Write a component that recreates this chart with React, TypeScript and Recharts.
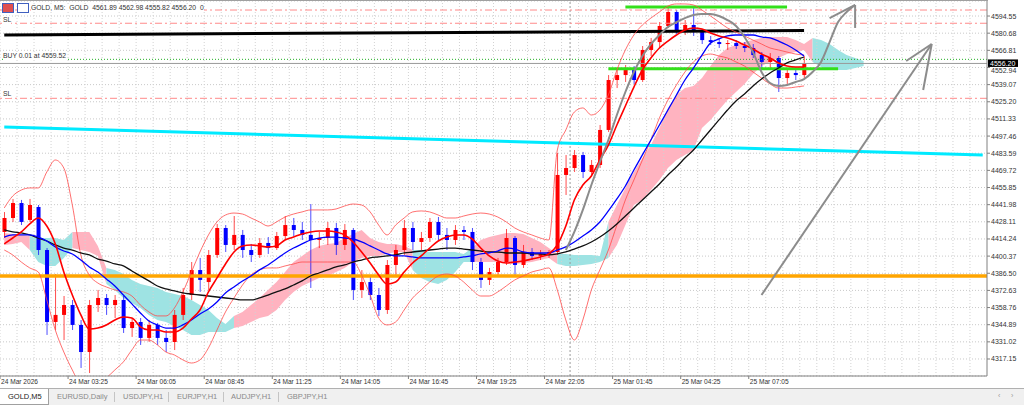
import {
  ComposedChart,
  Bar,
  Line,
  Area,
  XAxis,
  YAxis,
  CartesianGrid,
  ReferenceLine,
} from "recharts";

// x axis: one slot ~ 20 minutes of M5 bars
const timeLabels = [
  "24 Mar 2026", "24 Mar 03:25", "24 Mar 06:05", "24 Mar 08:45", "24 Mar 11:25", "24 Mar 14:05",
  "24 Mar 16:45", "24 Mar 19:25", "24 Mar 22:05", "25 Mar 01:45", "25 Mar 04:25", "25 Mar 07:05",
];

const priceTicks = [
  4594.55, 4580.68, 4566.81, 4552.94, 4539.07, 4525.2, 4511.33, 4497.46, 4483.59, 4469.72, 4455.85,
  4441.98, 4428.11, 4414.24, 4400.37, 4386.5, 4372.63, 4358.76, 4344.89, 4331.02, 4317.15,
];

const openPrices = [
  4419.9, 4431.2, 4443.3, 4429.6, 4440.1, 4405.3, 4347.1, 4352.8, 4360.8, 4344.7,
  4322.8, 4360.8, 4366.5, 4360.8, 4364.9, 4342.2, 4347.1, 4334.2, 4344.7, 4334.2,
  4330.9, 4352.8, 4368.9, 4389.1, 4379.4, 4401.3, 4423.1, 4409.4, 4417.5, 4405.3,
  4401.3, 4411.0, 4406.9, 4416.6, 4425.5, 4421.5, 4417.5, 4413.4, 4415.0, 4423.1,
  4409.4, 4421.5, 4373.0, 4379.4, 4368.9, 4356.8, 4393.2, 4405.3, 4423.1, 4411.8,
  4415.0, 4428.0, 4417.5, 4413.4, 4421.5, 4419.9, 4395.6, 4381.1, 4387.5, 4395.6,
  4415.0, 4393.2, 4403.7, 4400.5, 4402.1, 4403.7, 4466.0, 4471.6, 4482.1, 4468.4,
  4474.1, 4502.4, 4542.8, 4546.8, 4550.9, 4542.8, 4567.1, 4573.5, 4586.5, 4597.8,
  4583.2, 4587.3, 4581.6, 4575.1, 4573.5, 4571.9, 4572.7, 4570.3, 4568.7, 4563.0,
  4557.4, 4560.6, 4544.4, 4548.5, 4546.8,
];
const highPrices = [
  4436.0, 4446.6, 4445.8, 4446.6, 4441.7, 4406.9, 4385.9, 4368.1, 4364.9, 4348.7,
  4364.9, 4373.0, 4369.7, 4368.9, 4368.1, 4350.3, 4350.3, 4348.7, 4346.3, 4340.6,
  4356.8, 4374.6, 4395.6, 4398.9, 4405.3, 4426.3, 4425.5, 4432.8, 4421.5, 4410.2,
  4415.0, 4415.8, 4419.9, 4432.8, 4431.2, 4428.0, 4442.5, 4419.9, 4428.0, 4427.2,
  4426.3, 4423.1, 4389.1, 4384.3, 4374.6, 4397.2, 4409.4, 4429.6, 4428.0, 4419.9,
  4431.2, 4432.0, 4423.1, 4425.5, 4424.7, 4423.1, 4398.9, 4390.8, 4398.9, 4422.3,
  4416.6, 4409.4, 4406.9, 4405.3, 4405.3, 4483.8, 4482.1, 4486.2, 4484.6, 4478.1,
  4506.4, 4546.8, 4550.9, 4554.9, 4554.1, 4570.3, 4576.8, 4589.7, 4601.0, 4599.4,
  4591.3, 4601.0, 4584.0, 4578.4, 4576.8, 4575.1, 4575.1, 4573.5, 4571.9, 4565.4,
  4564.6, 4562.2, 4552.5, 4550.9, 4562.2,
];
const lowPrices = [
  4415.0, 4428.0, 4425.5, 4428.0, 4401.3, 4336.6, 4340.6, 4332.5, 4340.6, 4309.9,
  4305.8, 4355.2, 4352.8, 4350.3, 4338.2, 4335.0, 4328.5, 4330.9, 4328.5, 4322.8,
  4324.4, 4348.7, 4364.9, 4371.4, 4373.0, 4398.9, 4403.7, 4405.3, 4398.9, 4395.6,
  4398.9, 4402.1, 4405.3, 4413.4, 4416.6, 4413.4, 4374.6, 4406.9, 4409.4, 4401.3,
  4405.3, 4364.9, 4366.5, 4364.9, 4351.9, 4353.6, 4385.1, 4401.3, 4405.3, 4405.3,
  4411.8, 4413.4, 4405.3, 4409.4, 4413.4, 4389.1, 4374.6, 4377.0, 4384.3, 4393.2,
  4385.1, 4390.8, 4397.2, 4397.2, 4398.9, 4401.3, 4449.8, 4468.4, 4463.5, 4466.0,
  4471.6, 4500.7, 4536.3, 4541.2, 4539.6, 4541.2, 4562.2, 4568.7, 4584.8, 4580.0,
  4579.2, 4578.4, 4571.9, 4571.1, 4568.7, 4567.1, 4567.9, 4565.4, 4560.6, 4552.5,
  4550.9, 4533.1, 4539.6, 4542.8, 4544.4,
];
const closePrices = [
  4431.2, 4443.3, 4428.0, 4441.7, 4405.3, 4347.1, 4352.8, 4360.8, 4344.7, 4322.8,
  4360.8, 4366.5, 4360.8, 4364.9, 4342.2, 4347.1, 4334.2, 4344.7, 4334.2, 4330.9,
  4352.8, 4368.9, 4389.1, 4381.1, 4401.3, 4423.1, 4409.4, 4417.5, 4405.3, 4401.3,
  4411.0, 4406.9, 4416.6, 4425.5, 4421.5, 4417.5, 4413.4, 4415.0, 4423.1, 4409.4,
  4421.5, 4373.0, 4379.4, 4368.9, 4356.8, 4393.2, 4405.3, 4423.1, 4411.8, 4415.0,
  4428.0, 4417.5, 4413.4, 4421.5, 4419.9, 4395.6, 4381.1, 4387.5, 4395.6, 4415.0,
  4393.2, 4403.7, 4400.5, 4402.1, 4403.7, 4466.0, 4471.6, 4482.1, 4468.4, 4474.1,
  4502.4, 4542.8, 4546.8, 4550.9, 4542.8, 4567.1, 4573.5, 4586.5, 4597.8, 4583.2,
  4587.3, 4581.6, 4575.1, 4573.5, 4571.9, 4572.7, 4570.3, 4568.7, 4563.0, 4557.4,
  4560.6, 4544.4, 4548.5, 4546.8, 4556.2,
];

const maFast = [
  4410.2, 4415.0, 4419.9, 4426.4, 4431.2, 4424.7, 4410.2, 4387.5, 4368.9, 4352.8,
  4341.4, 4342.2, 4344.7, 4348.7, 4351.1, 4350.3, 4343.1, 4340.6, 4340.6, 4339.0,
  4339.0, 4342.2, 4349.5, 4356.8, 4371.4, 4382.7, 4394.0, 4403.7, 4408.6, 4409.4,
  4408.6, 4407.8, 4408.6, 4413.4, 4415.8, 4418.3, 4419.9, 4420.7, 4420.7, 4419.9,
  4417.5, 4411.8, 4403.7, 4394.8, 4385.1, 4377.8, 4379.4, 4387.5, 4394.8, 4400.5,
  4406.9, 4412.6, 4415.8, 4417.5, 4417.5, 4414.2, 4406.9, 4400.5, 4396.4, 4394.8,
  4395.6, 4396.4, 4398.0, 4399.7, 4402.1, 4409.4, 4424.7, 4445.8, 4457.9, 4465.2,
  4478.1, 4490.2, 4506.4, 4521.8, 4537.1, 4550.9, 4560.6, 4568.7, 4574.3, 4579.2,
  4583.2, 4584.9, 4584.0, 4580.8, 4578.4, 4576.8, 4574.3, 4571.1, 4567.9, 4563.8,
  4560.6, 4556.6, 4554.1, 4553.3, 4553.3,
];
const maMid = [
  4415.8, 4417.5, 4417.5, 4417.5, 4415.8, 4412.6, 4407.8, 4404.5, 4402.1, 4397.2,
  4391.6, 4387.5, 4381.9, 4376.2, 4368.9, 4361.7, 4354.4, 4347.9, 4344.7, 4342.2,
  4342.2, 4344.7, 4348.7, 4353.6, 4357.6, 4363.3, 4370.6, 4375.4, 4380.3, 4384.3,
  4389.2, 4393.2, 4398.0, 4402.9, 4406.9, 4410.2, 4413.4, 4415.0, 4415.8, 4415.8,
  4415.0, 4414.2, 4411.8, 4408.6, 4405.3, 4402.1, 4400.5, 4400.5, 4399.7, 4398.9,
  4398.9, 4398.9, 4398.9, 4398.9, 4399.7, 4400.5, 4402.1, 4402.9, 4404.5, 4406.9,
  4406.1, 4403.7, 4402.9, 4402.9, 4402.9, 4405.3, 4407.8, 4411.8, 4416.6, 4421.5,
  4428.0, 4436.9, 4446.6, 4457.1, 4470.0, 4482.2, 4494.3, 4506.4, 4518.5, 4530.7,
  4542.8, 4552.5, 4563.0, 4572.7, 4576.0, 4578.4, 4579.2, 4579.2, 4579.2, 4577.6,
  4576.8, 4574.3, 4571.1, 4567.1, 4562.2,
];
const maSlow = [
  4421.5, 4419.9, 4419.1, 4417.5, 4415.0, 4412.6, 4409.4, 4406.9, 4405.3, 4402.9,
  4401.3, 4398.0, 4396.4, 4394.0, 4392.4, 4388.3, 4384.3, 4380.3, 4376.2, 4373.8,
  4372.2, 4370.6, 4369.7, 4368.9, 4368.1, 4367.3, 4366.5, 4365.7, 4364.9, 4364.9,
  4366.5, 4368.9, 4371.4, 4373.8, 4377.0, 4380.3, 4384.3, 4386.7, 4389.2, 4391.6,
  4393.2, 4395.6, 4397.2, 4398.9, 4399.7, 4400.5, 4401.3, 4402.9, 4403.7, 4404.5,
  4405.3, 4406.1, 4406.9, 4406.9, 4406.1, 4405.3, 4404.5, 4403.7, 4403.7, 4402.9,
  4402.9, 4402.9, 4402.1, 4402.1, 4401.3, 4402.1, 4403.7, 4406.1, 4408.6, 4411.8,
  4415.8, 4420.7, 4426.4, 4432.8, 4439.3, 4445.8, 4452.2, 4458.7, 4466.0, 4472.4,
  4479.7, 4486.2, 4494.3, 4502.4, 4510.5, 4518.5, 4525.8, 4531.5, 4538.0, 4543.6,
  4548.5, 4552.5, 4556.6, 4559.0, 4561.4,
];
const bandUpper = [
  4439.3, 4449.0, 4453.8, 4455.5, 4455.5, 4468.4, 4478.1, 4471.6, 4441.7, 4401.3,
  4385.1, 4378.6, 4375.4, 4373.0, 4371.4, 4368.1, 4360.8, 4355.2, 4352.0, 4352.0,
  4358.4, 4371.4, 4387.5, 4403.7, 4417.5, 4428.0, 4433.6, 4435.2, 4434.4, 4431.2,
  4428.0, 4424.7, 4428.0, 4432.0, 4434.4, 4436.1, 4437.7, 4437.7, 4437.7, 4438.5,
  4440.9, 4442.5, 4441.7, 4436.1, 4425.5, 4417.5, 4425.5, 4431.2, 4436.1, 4436.9,
  4436.1, 4433.6, 4431.2, 4431.2, 4432.8, 4434.4, 4435.2, 4434.4, 4432.0, 4428.0,
  4423.1, 4419.9, 4417.5, 4415.0, 4413.4, 4486.2, 4502.4, 4516.9, 4520.2, 4514.5,
  4518.5, 4530.7, 4550.9, 4567.1, 4579.2, 4587.3, 4592.9, 4597.8, 4602.6, 4604.3,
  4604.3, 4603.5, 4599.4, 4594.6, 4589.7, 4584.9, 4581.6, 4578.4, 4575.1, 4571.9,
  4568.7, 4567.1, 4565.4, 4563.8, 4563.0,
];
const bandLower = [
  4405.3, 4401.3, 4395.6, 4390.8, 4387.5, 4364.9, 4340.6, 4322.8, 4308.3, 4296.2,
  4293.7, 4296.2, 4301.8, 4308.3, 4314.8, 4324.5, 4332.5, 4332.5, 4328.5, 4322.8,
  4320.4, 4316.4, 4313.9, 4316.4, 4326.1, 4340.6, 4355.2, 4366.5, 4377.0, 4385.1,
  4389.2, 4390.8, 4390.8, 4392.4, 4394.0, 4395.6, 4395.6, 4395.6, 4395.6, 4395.6,
  4395.6, 4395.6, 4385.1, 4368.9, 4350.3, 4344.7, 4347.1, 4356.8, 4366.5, 4373.0,
  4379.4, 4384.3, 4385.9, 4384.3, 4379.4, 4373.0, 4368.1, 4368.1, 4371.4, 4376.2,
  4381.1, 4384.3, 4387.5, 4389.2, 4390.8, 4373.0, 4348.7, 4332.5, 4348.7, 4373.0,
  4389.2, 4405.3, 4425.5, 4445.8, 4461.9, 4478.1, 4494.3, 4512.1, 4526.6, 4538.8,
  4549.3, 4557.4, 4562.2, 4563.8, 4562.2, 4560.6, 4557.4, 4554.1, 4549.3, 4544.4,
  4539.6, 4536.3, 4536.3, 4537.1, 4538.0,
];

// Ichimoku spans (shifted forward, so they run past the last candle)
const spanA = [
  4419.1, 4418.3, 4417.5, 4405.3, 4395.6, 4392.4, 4392.4, 4398.9, 4419.9, 4419.9,
  4419.9, 4408.6, 4377.8, 4373.0, 4366.5, 4362.5, 4358.4, 4352.8, 4348.7, 4347.1,
  4343.9, 4340.6, 4336.6, 4336.6, 4339.0, 4339.0, 4339.0, 4351.9, 4355.2, 4360.8,
  4366.5, 4373.0, 4379.4, 4387.5, 4395.6, 4400.5, 4405.3, 4408.6, 4410.2, 4411.0,
  4415.0, 4418.3, 4421.5, 4415.0, 4411.8, 4410.2, 4410.2, 4408.6, 4389.2, 4382.7,
  4379.4, 4377.8, 4381.1, 4387.5, 4395.6, 4406.9, 4413.4, 4415.8, 4417.5, 4419.1,
  4419.1, 4418.3, 4415.0, 4411.8, 4406.9, 4394.0, 4392.4, 4392.4, 4393.2, 4394.0,
  4395.6, 4428.0, 4441.7, 4455.5, 4468.4, 4479.7, 4490.2, 4504.0, 4520.2, 4530.7,
  4536.3, 4538.0, 4544.4, 4554.1, 4563.0, 4568.7, 4571.1, 4573.5, 4575.1, 4576.8,
  4577.6, 4577.6, 4577.6, 4575.1, 4571.9, 4557.4, 4553.3, 4550.9, 4550.9, 4550.9,
  4552.5, 4554.1,
];
const spanB = [
  4409.4, 4410.2, 4411.8, 4416.6, 4415.0, 4415.0, 4415.0, 4413.4, 4406.9, 4405.3,
  4403.7, 4400.5, 4390.8, 4389.2, 4385.9, 4381.1, 4377.8, 4376.2, 4374.6, 4371.4,
  4369.7, 4368.1, 4364.9, 4360.8, 4356.8, 4350.3, 4345.5, 4342.2, 4343.9, 4347.1,
  4350.3, 4351.9, 4356.8, 4364.9, 4371.4, 4376.2, 4379.4, 4382.7, 4384.3, 4387.5,
  4390.8, 4395.6, 4398.9, 4400.5, 4400.5, 4402.1, 4403.7, 4403.7, 4405.3, 4405.3,
  4403.7, 4403.7, 4403.7, 4403.7, 4402.1, 4395.6, 4395.6, 4395.6, 4395.6, 4394.8,
  4394.0, 4394.8, 4395.6, 4397.2, 4398.9, 4402.1, 4402.1, 4401.3, 4401.3, 4401.3,
  4400.5, 4398.9, 4409.4, 4425.5, 4441.7, 4445.8, 4453.8, 4461.9, 4471.6, 4478.1,
  4482.2, 4486.2, 4504.0, 4510.5, 4518.5, 4526.6, 4533.1, 4539.6, 4547.7, 4554.1,
  4557.4, 4560.6, 4563.8, 4565.4, 4567.1, 4576.8, 4575.1, 4571.9, 4567.1, 4563.0,
  4560.6, 4558.2,
];

// hand drawn grey arrow, from slot 66 on
const sketchStart = 66;
const sketchPath = [
  4405.3, 4419.9, 4437.7, 4457.9, 4476.5, 4494.3, 4514.5, 4533.1, 4549.3, 4562.2,
  4571.9, 4579.2, 4585.7, 4589.7, 4592.9, 4595.4, 4596.2, 4596.2, 4594.6, 4591.3,
  4586.5, 4577.6, 4565.4, 4549.3, 4540.4, 4538.0, 4538.8, 4541.2, 4543.6, 4549.3,
  4557.4, 4573.5, 4589.7, 4597.8, 4603.5,
];

const lastPrice = 4556.2;
const buyPrice = 4559.52;
const stopLevels = [4599.4, 4588.7, 4528.0];
const supportLevel = 4384.3;
const cyanTrend = [{ x: 0, y: 4504.7 }, { x: 115, y: 4482.2 }];
const blackTrend = [{ x: 0, y: 4579.2 }, { x: 94, y: 4582.8 }];
const greenTop = [{ x: 73, y: 4601.8 }, { x: 92, y: 4601.8 }];
const greenLow = [{ x: 71, y: 4551.9 }, { x: 98, y: 4551.9 }];
const arrowA = [
  [{ x: 100, y: 4603.5 }, { x: 97, y: 4592.9 }],
  [{ x: 100, y: 4603.5 }, { x: 100, y: 4584.9 }],
];
const arrowB = [
  [{ x: 89, y: 4368.9 }, { x: 109, y: 4571.9 }],
  [{ x: 109, y: 4571.9 }, { x: 106, y: 4558.2 }],
  [{ x: 109, y: 4571.9 }, { x: 108, y: 4534.7 }],
];
const daySeparator = 67;

const tabs = ["GOLD,M5", "EURUSD,Daily", "USDJPY,H1", "EURJPY,H1", "AUDJPY,H1", "GBPJPY,H1"];
const tabLeft = [0, 57, 123, 177, 231, 287];
const tabSeparators = [114, 168, 223, 278];

const SLOTS = 116;
const LABEL_EVERY = 8;
const HALF_SLOT = 987 / SLOTS / 2;
const FONT = "'Liberation Sans', Arial, sans-serif";

const isPink = (i: number) => spanA[i] != null && spanA[i] >= spanB[i];
const isCyan = (i: number) => spanA[i] != null && spanA[i] < spanB[i];
const span = (i: number) => [Math.min(spanA[i], spanB[i]), Math.max(spanA[i], spanB[i])];

const data = Array.from({ length: SLOTS }, (_, i) => ({
  i,
  o: openPrices[i] ?? null,
  h: highPrices[i] ?? null,
  l: lowPrices[i] ?? null,
  c: closePrices[i] ?? null,
  fast: maFast[i] ?? null,
  mid: maMid[i] ?? null,
  slow: maSlow[i] ?? null,
  up: bandUpper[i] ?? null,
  lo: bandLower[i] ?? null,
  // each colour reaches one slot into its neighbour so the cloud has no gaps
  pink: spanA[i] != null && (isPink(i) || isPink(i - 1)) ? span(i) : null,
  cyan: spanA[i] != null && (isCyan(i) || isCyan(i - 1)) ? span(i) : null,
  sk: i >= sketchStart ? sketchPath[i - sketchStart] ?? null : null,
}));

const Candle = (props: any) => {
  const { x, y, width, height, payload } = props;
  if (payload == null || payload.o == null) return null;
  const { o, h, l, c } = payload;
  const top = Math.min(y, y + height);
  const hgt = Math.abs(height);
  const rng = h - l || 1;
  const py = (p: number) => top + ((h - p) / rng) * hgt;
  const up = c >= o;
  const color = up ? "#ff0000" : "#0000ff";
  const cx = x + width / 2;
  const bTop = Math.min(py(o), py(c));
  const bH = Math.max(1, Math.abs(py(o) - py(c)));
  return (
    <g>
      <line x1={cx} x2={cx} y1={top} y2={top + hgt} stroke={color} strokeOpacity={0.7} strokeWidth={1} />
      <rect x={cx - 2} y={bTop} width={4} height={bH} fill={color} />
    </g>
  );
};

const TimeTick = (props: any) => {
  const { x, y, payload } = props;
  const idx = payload.value;
  if (idx % LABEL_EVERY !== 0) return null;
  const label = timeLabels[idx / LABEL_EVERY];
  if (!label) return null;
  const x0 = x - HALF_SLOT;
  return (
    <g>
      <line x1={x0} x2={x0} y1={y - 3} y2={y} stroke="#808080" />
      <text x={x0 + 1} y={y + 0.5} dy="0.71em" fontSize={6.6} fill="#333" fontFamily={FONT} textAnchor="start">
        {label}
      </text>
    </g>
  );
};

// the tick just under the price tag peeks out below it, as in the terminal
const PriceTick = (props: any) => {
  const { x, y, payload } = props;
  const v = payload.value as number;
  const nudge = Math.abs(v - lastPrice) < 5 ? 3.5 : 0;
  return (
    <text x={x} y={y + nudge} dy="0.355em" fontSize={7} fill="#333" fontFamily={FONT} textAnchor="start">
      {v.toFixed(2)}
    </text>
  );
};

const PriceTag = (props: any) => {
  const vb = props.viewBox;
  if (!vb) return null;
  const x = vb.x + vb.width + 1;
  return (
    <g>
      <rect x={x} y={vb.y - 4} width={30} height={7.5} fill="#000" />
      <text x={x + 2} y={vb.y + 2.3} fontSize={7} fill="#fff" fontFamily={FONT}>
        {lastPrice.toFixed(2)}
      </text>
    </g>
  );
};

const gridSlots = Array.from({ length: SLOTS / 2 }, (_, k) => k * 2);

const smallText = {
  position: "absolute" as const,
  fontSize: 6.8,
  color: "#333",
  fontFamily: FONT,
  whiteSpace: "pre" as const,
  lineHeight: "8px",
  background: "#fff",
};

export default function App() {
  return (
    <div style={{ position: "absolute", left: 0, top: 0, width: 1024, height: 405, background: "#fff", overflow: "hidden" }}>
      <ComposedChart width={1024} height={388} data={data} margin={{ top: 1, right: 0, bottom: 0, left: 0 }} barCategoryGap={0}>
        <CartesianGrid vertical={false} stroke="#c9c9c9" strokeDasharray="1 2" />
        {gridSlots.map((s) => (
          <ReferenceLine key={"g" + s} x={s} position="start" stroke="#d2d2d2" strokeDasharray="1 2" />
        ))}
        <XAxis
          dataKey="i"
          type="category"
          interval={LABEL_EVERY - 1}
          height={12}
          tickLine={false}
          tickSize={3}
          tickMargin={0}
          axisLine={{ stroke: "#808080" }}
          tick={<TimeTick />}
        />
        <YAxis
          orientation="right"
          type="number"
          width={37}
          domain={[4303.4, 4606.7]}
          allowDataOverflow
          ticks={priceTicks}
          interval={0}
          tickSize={3}
          tickMargin={1}
          axisLine={{ stroke: "#808080" }}
          tickLine={{ stroke: "#808080" }}
          tick={<PriceTick />}
        />
        <ReferenceLine x={daySeparator} position="start" stroke="#9a9a9a" strokeDasharray="2 2" />

        <Area dataKey="pink" stroke="none" fill="#ffb3c0" fillOpacity={1} isAnimationActive={false} dot={false} activeDot={false} />
        <Area dataKey="cyan" stroke="none" fill="#9ee3e3" fillOpacity={1} isAnimationActive={false} dot={false} activeDot={false} />

        <ReferenceLine y={supportLevel} stroke="#ffa500" strokeWidth={3.5} />
        <ReferenceLine segment={cyanTrend} stroke="#00eaff" strokeWidth={3} />
        <ReferenceLine segment={blackTrend} stroke="#000" strokeWidth={3} />
        <ReferenceLine segment={greenTop} stroke="#33e01a" strokeWidth={3} />
        <ReferenceLine segment={greenLow} stroke="#33e01a" strokeWidth={3} />
        {stopLevels.map((p) => (
          <ReferenceLine key={"sl" + p} y={p} stroke="#ff8a8a" strokeDasharray="7 3 2 3" />
        ))}
        <ReferenceLine y={buyPrice} stroke="#22b022" strokeDasharray="1 2" />
        <ReferenceLine y={lastPrice} stroke="#9a9a9a" label={<PriceTag />} />

        <Line dataKey="up" type="monotone" stroke="#ff4a4a" strokeWidth={0.8} dot={false} isAnimationActive={false} />
        <Line dataKey="lo" type="monotone" stroke="#ff4a4a" strokeWidth={0.8} dot={false} isAnimationActive={false} />
        <Line dataKey="slow" type="monotone" stroke="#111" strokeWidth={1.3} dot={false} isAnimationActive={false} />
        <Line dataKey="mid" type="monotone" stroke="#0000ff" strokeWidth={1.3} dot={false} isAnimationActive={false} />
        <Line dataKey="fast" type="monotone" stroke="#ff0000" strokeWidth={1.6} dot={false} isAnimationActive={false} />

        <Bar dataKey={(d: any) => (d.h == null ? null : [d.l, d.h])} shape={Candle} isAnimationActive={false} />

        <Line dataKey="sk" type="monotone" stroke="#8c8c8c" strokeWidth={2} dot={false} isAnimationActive={false} />
        {arrowA.map((seg, k) => (
          <ReferenceLine key={"aa" + k} segment={seg} stroke="#8c8c8c" strokeWidth={2} />
        ))}
        {arrowB.map((seg, k) => (
          <ReferenceLine key={"ab" + k} segment={seg} stroke="#8c8c8c" strokeWidth={2} />
        ))}
      </ComposedChart>

      <div style={{ position: "absolute", left: 0, top: 0, width: 988, height: 1, background: "#a0a0a0" }} />

      <div style={{ position: "absolute", left: 2, top: 3, width: 10, height: 8, background: "#e05050", border: "1px solid #4060c0" }} />
      <div style={{ position: "absolute", left: 17, top: 3, width: 10, height: 8, border: "1px solid #4060c0", background: "#fff" }} />
      <div style={{ ...smallText, left: 31, top: 4 }}>{"GOLD, M5:  GOLD  4561.89 4562.98 4555.82 4556.20  0"}</div>
      <div style={{ ...smallText, left: 3, top: 16 }}>SL</div>
      <div style={{ ...smallText, left: 3, top: 52 }}>{"BUY 0.01 at " + buyPrice.toFixed(2)}</div>
      <div style={{ ...smallText, left: 3, top: 90 }}>SL</div>

      <div style={{ position: "absolute", left: 0, top: 388, width: 1024, height: 17, background: "#f0f0f0", borderTop: "1px solid #b0b0b0" }}>
        <div style={{ position: "absolute", left: 0, top: 0, width: 48, height: 15, background: "#fff", borderRight: "1px solid #a0a0a0", borderBottom: "1px solid #a0a0a0" }} />
        {tabs.map((t, k) => (
          <div
            key={t}
            style={{
              position: "absolute",
              left: k === 0 ? 8 : tabLeft[k],
              top: 4,
              fontSize: 7.5,
              lineHeight: "8px",
              color: k === 0 ? "#222" : "#8a8a8a",
              fontFamily: FONT,
              whiteSpace: "pre",
            }}
          >
            {t}
          </div>
        ))}
        {tabSeparators.map((s) => (
          <div key={"sep" + s} style={{ position: "absolute", left: s, top: 3, width: 1, height: 10, background: "#c4c4c4" }} />
        ))}
        <div style={{ position: "absolute", left: 998, top: 3, fontSize: 7, color: "#999", fontFamily: FONT }}>{"‹"}</div>
        <div style={{ position: "absolute", left: 1011, top: 3, fontSize: 7, color: "#999", fontFamily: FONT }}>{"›"}</div>
      </div>
    </div>
  );
}
